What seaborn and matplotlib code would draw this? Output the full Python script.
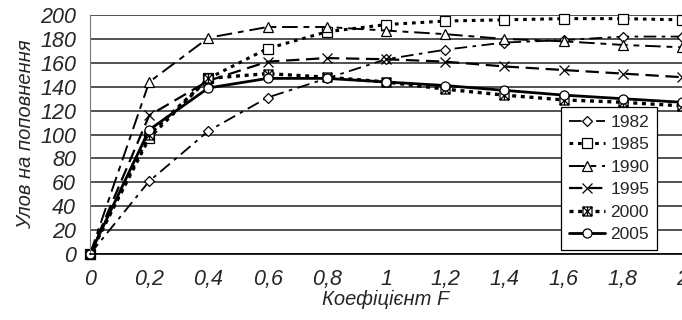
import matplotlib
matplotlib.use('Agg')
import matplotlib.pyplot as plt
import numpy as np
import pandas as pd
import seaborn as sns
from matplotlib.path import Path

# values
f_coef = [0, 0.2, 0.4, 0.6, 0.8, 1.0, 1.2, 1.4, 1.6, 1.8, 2.0]
x_labels = ['0', '0,2', '0,4', '0,6', '0,8', '1', '1,2', '1,4', '1,6', '1,8', '2']
y_ticks = [0, 20, 40, 60, 80, 100, 120, 140, 160, 180, 200]

years = ['1982', '1985', '1990', '1995', '2000', '2005']
catch_1982 = [0, 61, 103, 131, 147, 163, 171, 177, 179, 182, 182]
catch_1985 = [0, 97, 147, 172, 186, 192, 195, 196, 197, 197, 196]
catch_1990 = [0, 144, 181, 190, 190, 187, 184, 180, 178, 175, 173]
catch_1995 = [0, 116, 145, 161, 164, 163, 161, 157, 154, 151, 148]
catch_2000 = [0, 100, 147, 151, 148, 144, 138, 133, 129, 127, 124]
catch_2005 = [0, 104, 139, 147, 147, 144, 141, 137, 133, 130, 127]

df = pd.DataFrame({'F': f_coef, '1982': catch_1982, '1985': catch_1985,
                   '1990': catch_1990, '1995': catch_1995,
                   '2000': catch_2000, '2005': catch_2005})
long_df = df.melt(id_vars='F', var_name='year', value_name='catch')

sns.set_style('white')
plt.rcParams['font.family'] = ['Liberation Sans', 'DejaVu Sans']

# boxed asterisk marker
boxed_star = Path(
    [(-1, -1), (1, -1), (1, 1), (-1, 1), (-1, -1),
     (-1, -1), (1, 1), (-1, 1), (1, -1), (0, -1), (0, 1)],
    [Path.MOVETO, Path.LINETO, Path.LINETO, Path.LINETO, Path.CLOSEPOLY,
     Path.MOVETO, Path.LINETO, Path.MOVETO, Path.LINETO, Path.MOVETO, Path.LINETO],
)

styles = {
    '1982': dict(marker='D', ms=5.5, ls=(0, (7, 3, 2, 3)), lw=1.3),
    '1985': dict(marker='s', ms=7, ls=(0, (1.2, 1.6)), lw=2.2),
    '1990': dict(marker='^', ms=7.5, ls=(0, (8, 3, 3, 3)), lw=1.4),
    '1995': dict(marker='x', ms=7.5, ls=(0, (6, 3)), lw=1.6),
    '2000': dict(marker=boxed_star, ms=6.5, ls=(0, (1.2, 1.4)), lw=2.4),
    '2005': dict(marker='o', ms=6.5, ls='-', lw=2.0),
}

fig = plt.figure(figsize=(6.82, 3.2), dpi=100)
ax = fig.add_axes([0.132, 0.206, 0.868, 0.747])

for yr in years:
    st = styles[yr]
    sns.lineplot(
        data=long_df[long_df['year'] == yr], x='F', y='catch', ax=ax,
        color='black', marker=st['marker'], markersize=st['ms'],
        markerfacecolor='white', markeredgecolor='black', markeredgewidth=0.9,
        linestyle=st['ls'], linewidth=st['lw'], label=yr, clip_on=False,
    )

ax.set_xlim(0, 2)
ax.set_ylim(0, 200)
ax.set_xticks(f_coef)
ax.set_xticklabels(x_labels, fontstyle='italic', fontsize=15.5)
ax.set_yticks(y_ticks)
ax.set_yticklabels([str(v) for v in y_ticks], fontstyle='italic', fontsize=15.5)
ax.grid(axis='y', color='#333333', lw=1.2)
ax.set_axisbelow(True)
ax.tick_params(axis='x', direction='out', length=4, width=1, color='black', pad=7)
ax.tick_params(axis='y', direction='out', length=3, width=1, color='#333333', pad=7)
for s in ['top', 'right']:
    ax.spines[s].set_visible(False)
ax.spines['bottom'].set_color('black')
ax.spines['bottom'].set_linewidth(1.2)
ax.spines['left'].set_color('#777777')

ax.set_xlabel('Коефіцієнт F', fontstyle='italic', fontsize=14.5, labelpad=0)
ax.set_ylabel('Улов на поповнення', fontstyle='italic', fontsize=14.5, labelpad=4)

leg = ax.legend(loc='lower right', bbox_to_anchor=(0.958, 0.017), fontsize=12.5,
                handlelength=2.1, handletextpad=0.3, labelspacing=0.42, borderpad=0.45,
                borderaxespad=0, fancybox=False, framealpha=1, edgecolor='black')
leg.get_frame().set_linewidth(0.9)

plt.savefig('out.png', dpi=100)
